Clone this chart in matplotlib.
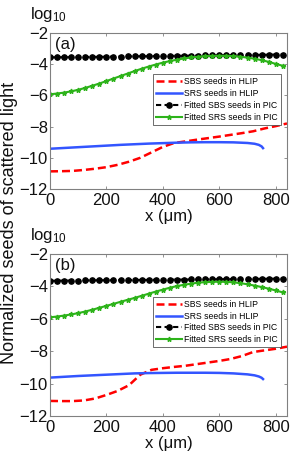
import matplotlib
matplotlib.use("Agg")
import matplotlib.pyplot as plt
import numpy as np

plt.rcParams['font.family'] = ['Liberation Sans', 'DejaVu Sans']
plt.rcParams['mathtext.default'] = 'regular'

# ---------------- data ----------------
x_pic = [0, 25, 50, 75, 100, 125, 150, 175, 200, 225, 250, 275, 300, 325, 350, 375, 400,
         425, 450, 475, 500, 525, 550, 575, 600, 625, 650, 675, 700, 725, 750, 775, 800, 825]

# panel (a)
sbs_pic_a = [-3.56, -3.56, -3.55, -3.55, -3.54, -3.54, -3.53, -3.53, -3.52, -3.51, -3.51, -3.50,
             -3.50, -3.49, -3.49, -3.48, -3.47, -3.47, -3.46, -3.46, -3.45, -3.45, -3.44, -3.44,
             -3.43, -3.42, -3.42, -3.41, -3.41, -3.40, -3.40, -3.39, -3.38, -3.38]
srs_pic_a = [-5.93, -5.88, -5.82, -5.74, -5.64, -5.52, -5.38, -5.24, -5.08, -4.92, -4.76, -4.60,
             -4.44, -4.29, -4.15, -4.02, -3.90, -3.80, -3.71, -3.63, -3.57, -3.52, -3.49, -3.47,
             -3.46, -3.46, -3.48, -3.52, -3.58, -3.65, -3.74, -3.85, -3.98, -4.10]

x_sbs_hlip = [0, 40, 80, 120, 160, 200, 240, 280, 320, 360, 400, 440, 480, 520, 560, 600,
              640, 680, 720, 760, 800, 840]
sbs_hlip_a = [-10.87, -10.86, -10.84, -10.78, -10.70, -10.60, -10.45, -10.25, -10.00, -9.65,
              -9.30, -9.05, -8.95, -8.84, -8.74, -8.64, -8.53, -8.42, -8.30, -8.12, -7.97, -7.80]

x_srs_hlip = [0, 50, 100, 150, 200, 250, 300, 350, 400, 450, 500, 550, 600, 650, 700, 725,
              740, 750, 755]
srs_hlip_a = [-9.42, -9.37, -9.32, -9.27, -9.22, -9.17, -9.13, -9.09, -9.06, -9.03, -9.01,
              -9.00, -9.00, -9.01, -9.05, -9.10, -9.17, -9.27, -9.38]

# panel (b)
sbs_pic_b = [-3.65, -3.65, -3.64, -3.64, -3.64, -3.63, -3.63, -3.62, -3.62, -3.62, -3.61, -3.61,
             -3.60, -3.60, -3.60, -3.59, -3.59, -3.58, -3.58, -3.58, -3.57, -3.57, -3.56, -3.56,
             -3.56, -3.55, -3.55, -3.54, -3.54, -3.54, -3.53, -3.53, -3.52, -3.52]
srs_pic_b = [-5.91, -5.86, -5.80, -5.73, -5.65, -5.55, -5.44, -5.32, -5.20, -5.08, -4.95, -4.83,
             -4.71, -4.58, -4.45, -4.32, -4.20, -4.08, -3.98, -3.90, -3.83, -3.77, -3.74, -3.72,
             -3.71, -3.72, -3.75, -3.80, -3.87, -3.95, -4.04, -4.14, -4.25, -4.37]
sbs_hlip_b = [-11.07, -11.08, -11.08, -11.04, -10.92, -10.70, -10.45, -10.10, -9.45, -9.15,
              -9.05, -8.97, -8.90, -8.80, -8.70, -8.60, -8.48, -8.30, -8.05, -7.95, -7.85, -7.72]
srs_hlip_b = [-9.63, -9.58, -9.53, -9.49, -9.45, -9.41, -9.37, -9.35, -9.34, -9.33, -9.33,
              -9.33, -9.34, -9.37, -9.43, -9.49, -9.56, -9.64, -9.72]

labels = ['SBS seeds in HLIP', 'SRS seeds in HLIP', 'Fitted SBS seeds in PIC', 'Fitted SRS seeds in PIC']
xticks = [0, 200, 400, 600, 800]
yticks = [-12, -10, -8, -6, -4, -2]

RED = '#ff0000'
BLUE = '#3355ff'
GREEN = '#2db31a'
TXT = '#111111'

W, H = 291, 457
fig = plt.figure(figsize=(W / 100, H / 100), dpi=100)

def px_axes(left, top, right, bottom):
    return fig.add_axes([left / W, 1 - bottom / H, (right - left) / W, (bottom - top) / H])

axes = [px_axes(50, 33, 287, 189), px_axes(50, 254, 287, 416)]
panels = [
    ('(a)', sbs_hlip_a, srs_hlip_a, sbs_pic_a, srs_pic_a),
    ('(b)', sbs_hlip_b, srs_hlip_b, sbs_pic_b, srs_pic_b),
]

for ax, (tag, sh, rh, sp, rp) in zip(axes, panels):
    ax.plot(x_sbs_hlip, sh, color=RED, ls=(0, (3.2, 1.6)), lw=1.8, label=labels[0])
    ax.plot(x_srs_hlip, rh, color=BLUE, ls='-', lw=1.8, label=labels[1])
    ax.plot(x_pic, sp, color='black', ls=(0, (2.5, 1.6)), lw=1.5, marker='o', ms=3.8,
            label=labels[2])
    ax.plot(x_pic, rp, color=GREEN, ls='-', lw=1.5, marker='*', ms=3.5, mec=GREEN,
            label=labels[3])
    ax.set_xlim(0, 840)
    ax.set_ylim(-12, -2)
    ax.set_xticks(xticks)
    ax.set_yticks(yticks)
    ax.set_yticklabels(['\u2212%d' % -v for v in yticks])
    ax.tick_params(direction='in', length=2.5, width=0.5, top=True, right=True,
                   labelsize=12, pad=1.5, colors='#666666', labelcolor=TXT)
    ax.tick_params(axis='x', pad=3)
    for s in ax.spines.values():
        s.set_color('#808080')
        s.set_linewidth(0.8)
    ax.set_xlabel('x (\u03bcm)', fontsize=12, labelpad=0.5, color=TXT)
    ax.text(0.02, 0.975, tag, transform=ax.transAxes, ha='left', va='top', fontsize=12,
            color=TXT)
    ax.text(-0.085, 1.055, 'log$_{10}$', transform=ax.transAxes, ha='left', va='bottom',
            fontsize=12, color=TXT)
    leg = ax.legend(loc='upper right', bbox_to_anchor=(0.975, 0.735), fontsize=6.2,
                    handlelength=3.0, handletextpad=0.3, labelspacing=0.32,
                    borderpad=0.35, borderaxespad=0, fancybox=False, framealpha=1,
                    edgecolor='#333333')
    leg.get_frame().set_linewidth(0.5)

fig.text(10 / W, 1 - 223 / H, 'Normalized seeds of scattered light', rotation=90,
         ha='center', va='center', fontsize=13, color=TXT)

fig.savefig('out.png', dpi=100)
